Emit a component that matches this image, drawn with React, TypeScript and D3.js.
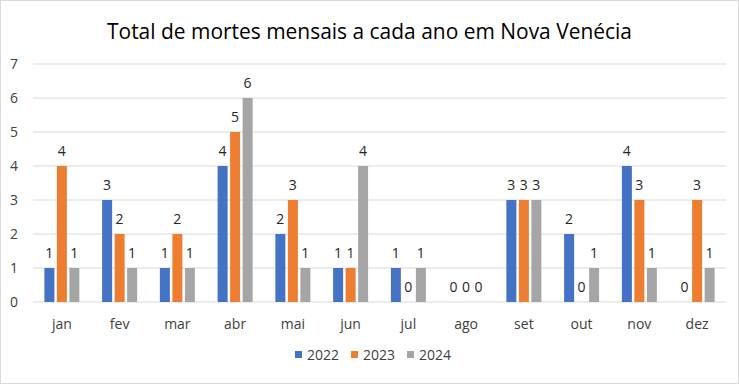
import React from "react";
import * as d3 from "d3";

const months = ["jan", "fev", "mar", "abr", "mai", "jun", "jul", "ago", "set", "out", "nov", "dez"];
const years = ["2022", "2023", "2024"];
const values2022 = [1, 3, 1, 4, 2, 1, 1, 0, 3, 2, 4, 0];
const values2023 = [4, 2, 2, 5, 3, 1, 0, 0, 3, 0, 3, 3];
const values2024 = [1, 1, 1, 6, 1, 4, 1, 0, 3, 1, 1, 1];
const yTicks = [0, 1, 2, 3, 4, 5, 6, 7];
const colors = ["#4472C4", "#ED7D31", "#A5A5A5"];

const series = [values2022, values2023, values2024];

const W = 739;
const H = 384;
const margin = { top: 64, right: 13, bottom: 82, left: 33 };
const font = "'Open Sans', 'Noto Sans', sans-serif";

const App: React.FC = () => {
    const width = W - margin.left - margin.right;
    const height = H - margin.top - margin.bottom;

    const x = d3.scaleBand().domain(months).range([0, width]).paddingInner(0.394).paddingOuter(0.197);
    const xSub = d3.scaleBand().domain(years).range([0, x.bandwidth()]).paddingInner(0.2).paddingOuter(0);
    const y = d3.scaleLinear().domain([0, 7]).range([height, 0]);

    return (
        <svg width={W} height={H} style={{ position: "absolute", left: 0, top: 0 }}>
            <rect x={0.5} y={0.5} width={W - 1} height={H - 1} fill="#fff" stroke="#D9D9D9" />
            <text x={107} y={39} textLength={525} lengthAdjust="spacingAndGlyphs" fontFamily={font} fontSize={21} fill="#000">
                Total de mortes mensais a cada ano em Nova Venécia
            </text>
            <g transform={`translate(${margin.left}, ${margin.top})`}>
                {yTicks.map((t) => (
                    <g key={`tick-${t}`}>
                        <line x1={0} x2={width} y1={y(t)} y2={y(t)} stroke="#D9D9D9" strokeWidth={1} />
                        <text x={-15} y={y(t)} dy="0.35em" textAnchor="end" fontFamily={font} fontSize={14} fill="#404040">
                            {t}
                        </text>
                    </g>
                ))}
                {months.map((m, i) => (
                    <g key={`m-${m}`} transform={`translate(${x(m)}, 0)`}>
                        {series.map((vals, s) => {
                            const bx = xSub(years[s]) ?? 0;
                            const v = vals[i];
                            return (
                                <g key={`bar-${m}-${s}`}>
                                    <rect x={bx} y={y(v)} width={xSub.bandwidth()} height={height - y(v)} fill={colors[s]} />
                                    <text x={bx + xSub.bandwidth() / 2} y={y(v) - 10} textAnchor="middle" fontFamily={font} fontSize={14} fill="#262626">
                                        {v}
                                    </text>
                                </g>
                            );
                        })}
                        <text x={x.bandwidth() / 2} y={height + 27} textAnchor="middle" fontFamily={font} fontSize={14} fill="#404040">
                            {m}
                        </text>
                    </g>
                ))}
            </g>
            <g transform="translate(295, 355)">
                {years.map((yr, i) => (
                    <g key={`leg-${yr}`} transform={`translate(${i * 56}, 0)`}>
                        <rect x={0} y={-4} width={7} height={7} fill={colors[i]} />
                        <text x={12} y={0} dy="0.35em" fontFamily={font} fontSize={14} fill="#404040">
                            {yr}
                        </text>
                    </g>
                ))}
            </g>
        </svg>
    );
};

export default App;
